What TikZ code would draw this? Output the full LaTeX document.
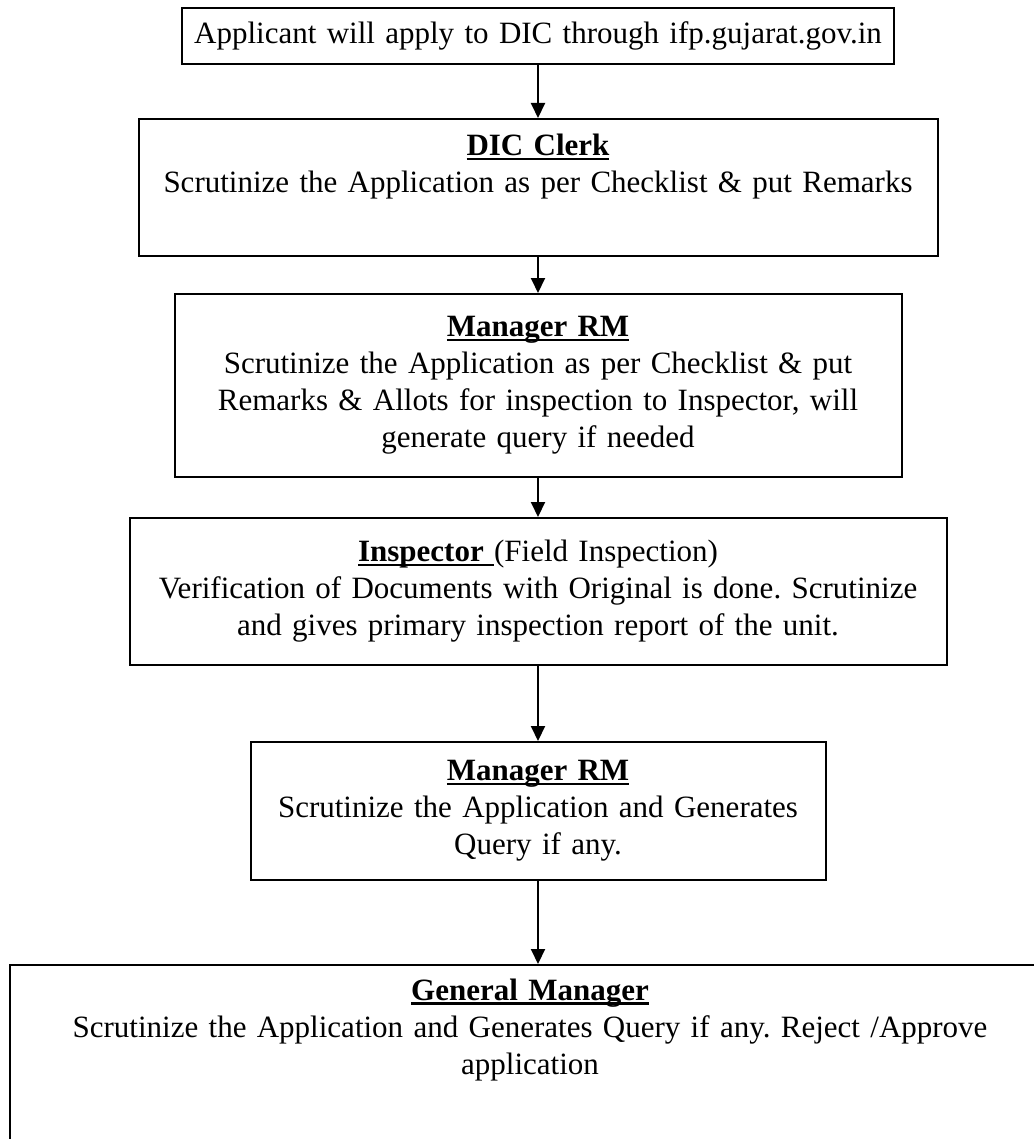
\documentclass[tikz,border=0pt]{standalone}
\usepackage{fontspec}
\setmainfont{Liberation Serif}
\usetikzlibrary{positioning, arrows.meta}
\frenchspacing

\newsavebox{\hdbox}
\newcommand{\hd}[1]{\sbox{\hdbox}{\bfseries #1}\leavevmode\rlap{\rule[-2.2pt]{\wd\hdbox}{1.3pt}}\usebox{\hdbox}}

\begin{document}
\begin{tikzpicture}[x=1pt, y=1pt,
        box/.style={draw, line width=1pt, align=center, inner sep=0pt, font=\fontsize{15.5}{18.5}\selectfont},
        arr/.style={line width=1pt, -{Triangle[length=7.5pt, width=7pt]}}]
            \useasboundingbox (0,0) rectangle (516.5,-569.5);
            \node [box, text width=356pt, minimum height=28pt] (apply) at (269,-18)
                {Applicant will apply to DIC through ifp.gujarat.gov.in};
            \node [box, text width=399.5pt, minimum height=68.5pt, below=26.5pt of apply] (clerk)
                {\hd{DIC Clerk}\\
                 Scrutinize the Application as per Checklist \& put Remarks\\ \strut};
            \node [box, text width=363.5pt, minimum height=91.5pt, below=18pt of clerk] (rm)
                {\hd{Manager RM}\\
                 Scrutinize the Application as per Checklist \& put\\
                 Remarks \& Allots for inspection to Inspector, will\\
                 generate query if needed};
            \node [box, text width=408.5pt, minimum height=73.5pt, below=19.5pt of rm] (insp)
                {\hd{Inspector\ }(Field Inspection)\\
                 Verification of Documents with Original is done. Scrutinize\\
                 and gives primary inspection report of the unit.};
            \node [box, text width=287.5pt, minimum height=69pt, below=37.5pt of insp] (rmb)
                {\hd{Manager RM}\\
                 Scrutinize the Application and Generates\\
                 Query if any.};
            \node [box, text width=520pt, minimum height=122.5pt, below=41.5pt of rmb, xshift=-4pt] (gm)
                {\hd{General Manager}\\
                 Scrutinize the Application and Generates Query if any. Reject /Approve\\
                 application\\ \strut\\ \strut\\ \strut};
            % one arrow between each pair of steps
            \draw [arr] (apply) -- (clerk);
            \draw [arr] (clerk) -- (rm);
            \draw [arr] (rm) -- (insp);
            \draw [arr] (insp) -- (rmb);
            \draw [arr] (rmb.south) -- (rmb.south |- gm.north);
        \end{tikzpicture}
\end{document}
